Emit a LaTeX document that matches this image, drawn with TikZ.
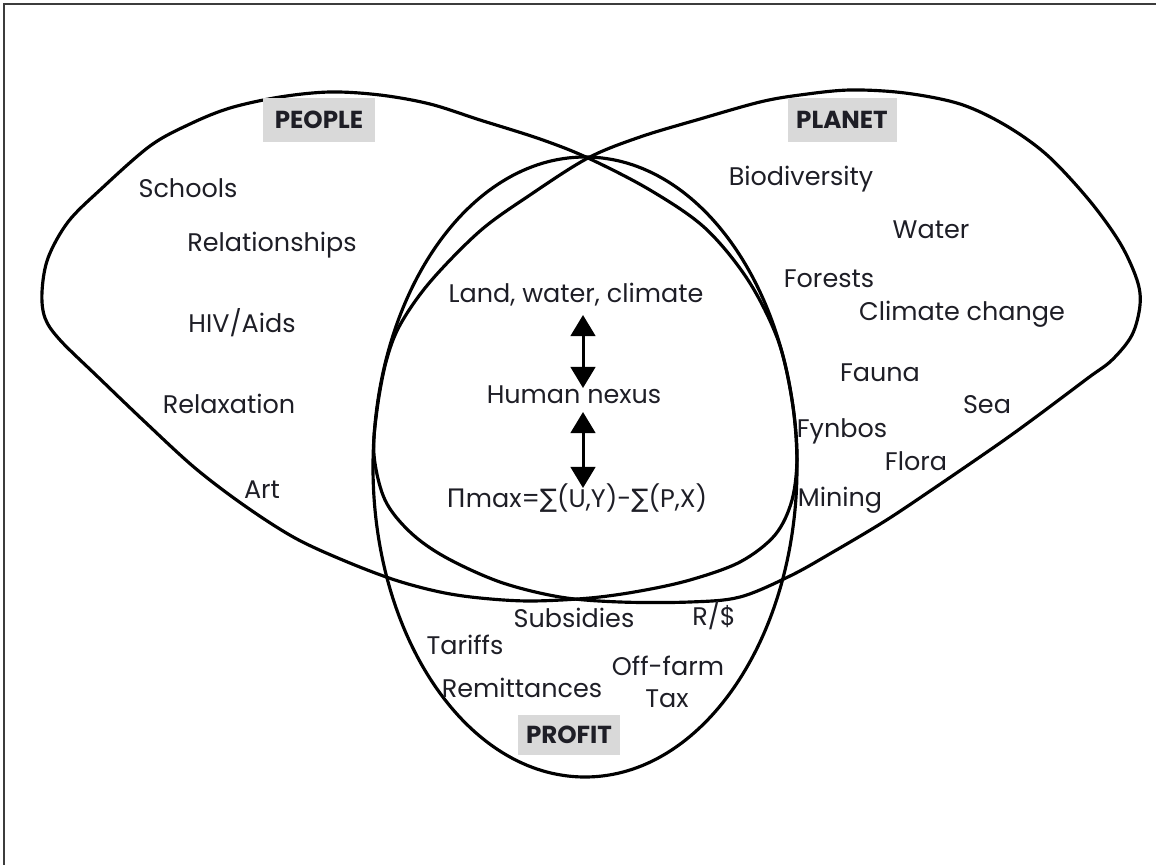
\documentclass[tikz,border=0pt]{standalone}
\usepackage{fontspec}
\setmainfont{Poppins}
\newfontfamily\symf{DejaVu Sans}
\usetikzlibrary{arrows.meta}
\definecolor{boxgray}{RGB}{217,217,217}
\definecolor{framegray}{RGB}{60,60,60}
\definecolor{txt}{RGB}{30,30,38}
\begin{document}
\begin{tikzpicture}[x=0.02cm,y=-0.02cm,
  venn/.style={line width=1.8pt, black},
  lbl/.style={anchor=base, inner sep=0pt, text=txt, font=\fontsize{14.5pt}{17pt}\selectfont},
  setlabel/.style={fill=boxgray, inner sep=0pt, text=txt, font=\fontsize{14pt}{16pt}\selectfont\bfseries},
  bigarrow/.style={line width=1.7pt, {Triangle[width=14pt,length=12pt]}-{Triangle[width=14pt,length=12pt]}},
  frameline/.style={line width=1.3pt, framegray}]
\useasboundingbox (0,0) rectangle (1156,865);
% frame (top and left edges only)
\coordinate (fbl) at (4,865);
\coordinate (ftl) at (4,4);
\coordinate (ftr) at (1156,4);
\draw[frameline] (fbl) -- (ftl) -- (ftr);
% PEOPLE
\draw[venn] plot[smooth cycle, tension=0.55] coordinates {
 (42,292) (48,258) (68,222) (100,190) (150,146) (190,124) (230,108) (280,97)
 (330,92) (380,95) (430,104) (480,120) (540,139) (588,158) (650,190)
 (705,228) (748,280) (778,340) (792,400) (797,455) (792,500) (775,535)
 (740,562) (690,580) (640,591) (590,598) (530,601) (480,598) (440,592)
 (395,580) (345,561) (295,538) (245,506) (195,468) (145,422) (98,377)
 (60,340) (45,318)};
% PLANET
\draw[venn] plot[smooth cycle, tension=0.55] coordinates {
 (1140,305) (1137,280) (1120,243) (1089,200) (1047,155) (1005,125) (960,104)
 (905,93) (850,90) (800,95) (760,102) (700,119) (640,137) (588,158)
 (530,195) (480,231) (430,282) (400,325) (386,362) (377,410) (374,455)
 (385,500) (410,532) (445,557) (500,582) (560,597) (620,602) (690,602)
 (740,597) (790,576) (833,552) (885,521) (933,489) (1000,443) (1040,414)
 (1088,378) (1112,360) (1132,335)};
% PROFIT
\node[draw=none] (pc) at (585,467) {};
\draw[venn] (pc.center) ellipse [x radius=212, y radius=310];
% set labels
\node[setlabel, minimum width=2.24cm, minimum height=0.88cm] (people) at (319,120) {PEOPLE};
\node[setlabel, minimum width=2.18cm, minimum height=0.88cm] (planet) at (842,120) {PLANET};
\node[setlabel, minimum width=2.04cm, minimum height=0.8cm] (profit) at (569,735) {PROFIT};
% people items
\node[lbl] (schools) at (188,197) {Schools};
\node[lbl] (relat) at (272,251) {Relationships};
\node[lbl] (hiv) at (242,332) {HIV/Aids};
\node[lbl] (relax) at (229,413) {Relaxation};
\node[lbl] (art) at (262,498) {Art};
% planet items
\node[lbl] (bio) at (801,185) {Biodiversity};
\node[lbl] (water) at (931,238) {Water};
\node[lbl] (forests) at (829,287) {Forests};
\node[lbl] (climate) at (962,320) {Climate change};
\node[lbl] (fauna) at (880,381) {Fauna};
\node[lbl] (sea) at (987,413) {Sea};
\node[lbl] (fynbos) at (842,437) {Fynbos};
\node[lbl] (flora) at (916,470) {Flora};
\node[lbl] (mining) at (840,506) {Mining};
% centre
\node[lbl] (land) at (576,302) {Land, water, climate};
\node[lbl] (human) at (574,403) {Human nexus};
\node[lbl] (pimax) at (577,507) {{\symf Π}max={\symf ∑}(U,Y)-{\symf ∑}(P,X)};
\coordinate (a1) at (583,315);
\coordinate (a2) at (583,388);
\coordinate (b1) at (583,412);
\coordinate (b2) at (583,488);
\draw[bigarrow] (a1) -- (a2);
\draw[bigarrow] (b1) -- (b2);
% profit items
\node[lbl] (subs) at (574,627) {Subsidies};
\node[lbl] (rand) at (714,625) {R/\$};
\node[lbl] (tariffs) at (465,654) {Tariffs};
\node[lbl] (offfarm) at (668,675) {Off-farm};
\node[lbl] (remit) at (522,697) {Remittances};
\node[lbl] (tax) at (667,707) {Tax};
\end{tikzpicture}
\end{document}
